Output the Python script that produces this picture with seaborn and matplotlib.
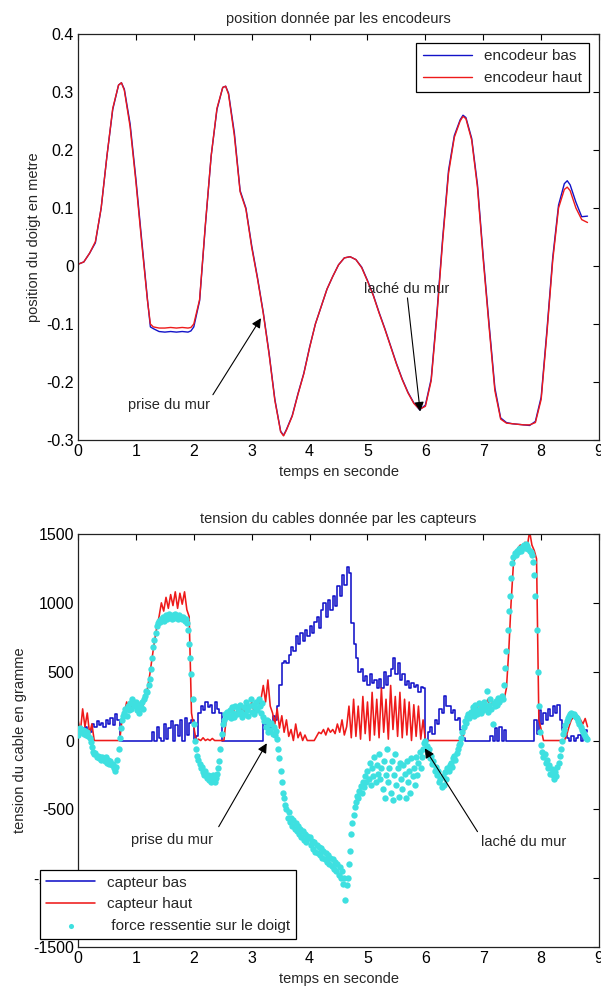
import numpy as np
import matplotlib
matplotlib.use("Agg")
import matplotlib.pyplot as plt
import seaborn as sns

# --- courbes des encodeurs (position du doigt, m) ---
enc_t = [0, 0.1, 0.2, 0.3, 0.4, 0.5, 0.6, 0.7, 0.75, 0.8, 0.9, 1.0, 1.1, 1.2, 1.25,
         1.3, 1.4, 1.5, 1.6, 1.7, 1.8, 1.9, 1.95, 2.0, 2.1, 2.2, 2.3, 2.4, 2.5, 2.55,
         2.6, 2.7, 2.8, 2.9, 3.0, 3.1, 3.2, 3.3, 3.4, 3.5, 3.55, 3.6, 3.7, 3.8, 3.9,
         4.0, 4.1, 4.2, 4.3, 4.4, 4.5, 4.6, 4.7, 4.8, 4.9, 5.0, 5.1, 5.2, 5.3, 5.4,
         5.5, 5.6, 5.7, 5.8, 5.9, 6.0, 6.1, 6.2, 6.3, 6.4, 6.5, 6.6, 6.65, 6.7, 6.8,
         6.9, 7.0, 7.1, 7.2, 7.3, 7.4, 7.5, 7.6, 7.7, 7.8, 7.9, 8.0, 8.1, 8.2, 8.3,
         8.4, 8.45, 8.5, 8.6, 8.7, 8.8]
enc_bas = [0.003, 0.007, 0.022, 0.04, 0.10, 0.19, 0.27, 0.312, 0.316, 0.305, 0.245,
           0.15, 0.045, -0.058, -0.105, -0.108, -0.113, -0.114, -0.113, -0.114,
           -0.113, -0.114, -0.112, -0.105, -0.06, 0.07, 0.19, 0.27, 0.308, 0.31,
           0.298, 0.23, 0.13, 0.10, 0.035, -0.02, -0.08, -0.15, -0.23, -0.285,
           -0.292, -0.282, -0.258, -0.22, -0.185, -0.14, -0.10, -0.07, -0.04,
           -0.018, 0.002, 0.014, 0.016, 0.011, -0.002, -0.025, -0.05, -0.08,
           -0.108, -0.138, -0.168, -0.195, -0.218, -0.236, -0.248, -0.24, -0.195,
           -0.08, 0.05, 0.165, 0.225, 0.252, 0.26, 0.256, 0.22, 0.14, 0.015, -0.10,
           -0.21, -0.262, -0.27, -0.272, -0.273, -0.274, -0.275, -0.268, -0.226,
           -0.11, 0.015, 0.105, 0.142, 0.147, 0.14, 0.11, 0.085, 0.086]
enc_haut = [0.003, 0.007, 0.022, 0.042, 0.10, 0.19, 0.272, 0.312, 0.316, 0.303, 0.24,
            0.145, 0.04, -0.06, -0.10, -0.105, -0.107, -0.107, -0.106, -0.107,
            -0.106, -0.107, -0.106, -0.10, -0.058, 0.072, 0.19, 0.272, 0.308, 0.31,
            0.296, 0.225, 0.128, 0.098, 0.032, -0.022, -0.082, -0.152, -0.232, -0.286,
            -0.293, -0.283, -0.259, -0.221, -0.186, -0.141, -0.10, -0.07, -0.04,
            -0.018, 0.002, 0.014, 0.016, 0.011, -0.003, -0.026, -0.051, -0.081,
            -0.109, -0.139, -0.169, -0.196, -0.219, -0.237, -0.247, -0.242, -0.198,
            -0.085, 0.045, 0.16, 0.222, 0.25, 0.258, 0.254, 0.217, 0.135, 0.01, -0.105,
            -0.215, -0.264, -0.271, -0.272, -0.273, -0.274, -0.274, -0.27, -0.23,
            -0.115, 0.01, 0.10, 0.132, 0.136, 0.13, 0.10, 0.08, 0.075]

# --- tension des cables (gramme), échantillonnage 0.04 s ---
dt_cables = 0.04
capteur_bas = [
    60, 90, 70, 100, 80, 60, 120, 100, 140, 110,
    130, 100, 150, 120, 160, 110, 190, 150, 0, 0,
    0, 0, 0, 0, 0, 0, 0, 0, 0, 0,
    0, 0, 60, 0, 100, 20, 0, 120, 10, 90,
    140, 0, 110, 30, 150, 0, 160, 40, 130, 150,
    0, 30, 200, 250, 220, 280, 240, 260, 200, 280,
    230, 200, 0, 0, 0, 0, 0, 0, 0, 0,
    0, 0, 0, 0, 0, 0, 0, 0, 0, 0,
    120, 100, 150, 90, 180, 150, 250, 400, 560, 580,
    560, 620, 680, 650, 760, 700, 780, 720, 800, 760,
    830, 780, 860, 900, 820, 950, 1000, 900, 1020, 950,
    1050, 980, 1120, 1050, 1200, 1130, 1260, 1220, 850, 700,
    600, 500, 520, 430, 470, 400, 480, 420, 440, 380,
    450, 380, 500, 400, 470, 520, 600, 480, 560, 440,
    480, 400, 430, 380, 420, 390, 400, 350, 390, 380,
    0, 60, 100, 50, 150, 120, 230, 200, 320, 250,
    250, 200, 220, 150, 160, 80, 20, 0, 0, 0,
    0, 0, 0, 0, 0, 0, 0, 0, 30, 0,
    90, 0, 100, 0, 80, 0, 0, 0, 0, 0,
    0, 0, 0, 0, 0, 0, 0, 150, 50, 220,
    120, 200, 150, 230, 180, 250, 200, 260, 150, 80,
    40, 20, 0, 30, 0, 20, 40, 0, 60, 80,
    60]
capteur_haut = [
    150, 60, 230, 100, 200, 50, 120, 0, 0, 0,
    0, 0, 0, 0, 0, 0, 0, 0, 0, 150,
    200, 280, 230, 250, 300, 260, 220, 280, 250, 300,
    380, 480, 600, 720, 820, 900, 1000, 940, 1040, 960,
    1060, 980, 1080, 960, 1070, 990, 1080, 950, 900, 200,
    100, 0, 10, 0, 20, 0, 10, 0, 15, 0,
    0, 0, 0, 0, 160, 200, 170, 230, 190, 220,
    180, 240, 200, 260, 220, 280, 210, 250, 230, 300,
    400, 280, 440, 250, 200, 120, 230, 90, 180, 60,
    150, 30, 80, 0, 120, 20, 60, 0, 40, 0,
    0, 0, 0, 30, 60, 50, 80, 40, 90, 60,
    80, 50, 120, 60, 150, 40, 100, 250, 20, 300,
    30, 250, 10, 320, 50, 280, 0, 350, 40, 300,
    20, 380, 60, 300, 10, 400, 80, 320, 30, 350,
    20, 300, 40, 280, 0, 260, 30, 250, 10, 150,
    0, 0, 0, 0, 0, 0, 0, 0, 0, 0,
    0, 0, 0, 0, 0, 0, 0, 80, 150, 200,
    220, 260, 200, 280, 240, 200, 270, 300, 230, 280,
    250, 300, 260, 320, 300, 380, 650, 1000, 1280, 1360,
    1400, 1420, 1400, 1440, 1410, 1520, 1420, 1380, 1320, 150,
    80, 0, 0, 0, 0, 0, 0, 0, 0, 0,
    0, 40, 100, 150, 170, 185, 170, 150, 120, 160,
    100]

# --- force ressentie (gramme), échantillonnage 0.02 s ---
dt_force = 0.02
force_doigt = [
    40, 70, 90, 60, 80, 50, 70, 40, 60, 30,
    20, -10, -50, -80, -100, -90, -120, -110, -130, -120,
    -140, -120, -130, -150, -120, -160, -140, -170, -150, -180,
    -170, -200, -220, -190, -140, -60, 20, 90, 150, 180,
    200, 230, 180, 250, 220, 270, 230, 300, 260, 250,
    280, 220, 260, 200, 240, 280, 230, 300, 320, 360,
    350, 400, 450, 520, 600, 680, 730, 780, 830, 850,
    870, 860, 880, 900, 870, 890, 910, 880, 900, 920,
    900, 880, 910, 890, 920, 900, 880, 910, 890, 900,
    880, 900, 870, 880, 850, 800, 700, 600, 480, 300,
    120, 0, -60, -110, -140, -170, -200, -190, -230, -250,
    -220, -270, -250, -290, -260, -300, -280, -250, -300, -270,
    -240, -200, -150, -60, 50, 120, 150, 190, 170, 210,
    180, 220, 160, 240, 200, 170, 250, 190, 230, 200,
    260, 210, 170, 240, 190, 280, 220, 180, 250, 300,
    210, 260, 190, 240, 280, 220, 300, 250, 200, 270,
    170, 140, 100, 150, 60, 120, 80, 130, 50, 100,
    40, 70, 10, -60, -130, -220, -300, -380, -420, -470,
    -500, -560, -520, -590, -560, -620, -580, -640, -600, -660,
    -620, -680, -640, -700, -660, -720, -680, -740, -690, -710,
    -700, -760, -730, -790, -740, -810, -760, -820, -770, -830,
    -780, -850, -800, -860, -820, -880, -830, -900, -850, -910,
    -860, -930, -880, -950, -900, -980, -920, -1000, -950, -1040,
    -1000, -1160, -1050, -1000, -900, -800, -680, -600, -540, -480,
    -450, -400, -420, -370, -330, -380, -300, -340, -260, -300,
    -220, -280, -160, -320, -200, -260, -120, -300, -180, -240,
    -100, -280, -200, -350, -150, -420, -250, -60, -300, -200,
    -380, -150, -430, -250, -100, -320, -200, -410, -160, -280,
    -350, -180, -240, -420, -150, -300, -220, -380, -130, -260,
    -200, -320, -120, -250, -160, -80, -200, -120, -60, -20,
    0, -40, -90, -60, -130, -110, -170, -150, -220, -190,
    -250, -220, -300, -280, -340, -260, -320, -230, -280, -200,
    -220, -180, -160, -190, -130, -110, -140, -90, -60, -30,
    -20, 20, 60, 100, 140, 130, 170, 190, 160, 210,
    200, 240, 180, 260, 220, 190, 270, 230, 200, 250,
    220, 280, 240, 360, 210, 260, 300, 230, 120, 270,
    250, 290, 260, 310, 280, 300, 320, 300, 400, 530,
    650, 800, 940, 1050, 1180, 1290, 1330, 1360, 1350, 1380,
    1370, 1390, 1400, 1380, 1410, 1420, 1400, 1430, 1410, 1390,
    1380, 1370, 1350, 1300, 1200, 1050, 800, 500, 250, 60,
    -30, -80, -120, -100, -160, -140, -200, -180, -240, -210,
    -250, -280, -230, -260, -190, -160, -110, -60, 0, 50,
    80, 110, 140, 160, 180, 190, 200, 195, 190, 180,
    170, 160, 140, 120, 100, 80, 60, 45, 30, 20,
    10]

t_cables = np.arange(len(capteur_bas)) * dt_cables
t_force = np.arange(len(force_doigt)) * dt_force

sns.set_style("white")
plt.rcParams["font.family"] = ["Liberation Sans", "DejaVu Sans"]
plt.rcParams["axes.unicode_minus"] = False

BLUE = "#1212c8"
RED = "#ee1a1a"
CYAN = "#3ee0e0"
arrow = dict(arrowstyle="-|>", color="black", lw=0.8, mutation_scale=14,
             shrinkA=0, shrinkB=0)

fig = plt.figure(figsize=(6.01, 9.90), dpi=100)
ax1 = fig.add_axes([0.1298, 0.5556, 0.867, 0.410])
ax2 = fig.add_axes([0.1298, 0.0434, 0.867, 0.4172])


def matlab_axes(ax):
    for s in ax.spines.values():
        s.set_color("#222222")
        s.set_linewidth(0.9)
    ax.tick_params(direction="in", top=True, right=True, length=4, width=0.8,
                   colors="black", labelsize=11.5, pad=3)
    ax.set_xlim(0, 9)
    ax.set_xticks(range(10))
    ax.set_xlabel("temps en seconde", fontsize=10.5, labelpad=4)


# ---- haut : position donnée par les encodeurs ----
sns.lineplot(x=enc_t, y=enc_bas, ax=ax1, color=BLUE, linewidth=1.0,
             estimator=None, label="encodeur bas")
sns.lineplot(x=enc_t, y=enc_haut, ax=ax1, color=RED, linewidth=1.0,
             estimator=None, label="encodeur haut")
matlab_axes(ax1)
ax1.set_ylim(-0.3, 0.4)
ax1.set_yticks([-0.3, -0.2, -0.1, 0, 0.1, 0.2, 0.3, 0.4])
ax1.set_yticklabels(["-0.3", "-0.2", "-0.1", "0", "0.1", "0.2", "0.3", "0.4"])
ax1.set_ylabel("position du doigt en metre", fontsize=10.5, labelpad=4)
ax1.set_title("position donnée par les encodeurs", fontsize=10.5, pad=8)
leg1 = ax1.legend(loc="upper right", bbox_to_anchor=(0.980, 0.957),
                  bbox_transform=fig.transFigure, fontsize=11, frameon=True,
                  fancybox=False, edgecolor="black", framealpha=1,
                  handlelength=3.2, borderpad=0.45, labelspacing=0.5,
                  borderaxespad=0)
leg1.get_frame().set_linewidth(0.9)

ax1.text(1.57, -0.239, "prise du mur", ha="center", va="center", fontsize=10.5)
ax1.annotate("", xy=(3.16, -0.090), xytext=(2.33, -0.222), arrowprops=arrow)
ax1.text(5.68, -0.039, "laché du mur", ha="center", va="center", fontsize=10.5)
ax1.annotate("", xy=(5.91, -0.251), xytext=(5.69, -0.055), arrowprops=arrow)

# ---- bas : tension des cables ----
sns.lineplot(x=t_cables, y=capteur_bas, ax=ax2, color=BLUE, linewidth=1.15,
             estimator=None, drawstyle="steps-post", label="capteur bas")
sns.lineplot(x=t_cables, y=capteur_haut, ax=ax2, color=RED, linewidth=1.15,
             estimator=None, label="capteur haut")
sns.scatterplot(x=t_force, y=force_doigt, ax=ax2, color=CYAN, marker="o", s=21,
                linewidth=0, label=" force ressentie sur le doigt", zorder=3)
matlab_axes(ax2)
ax2.set_ylim(-1500, 1500)
ax2.set_yticks([-1500, -1000, -500, 0, 500, 1000, 1500])
ax2.set_yticklabels(["-1500", "-1000", "-500", "0", "500", "1000", "1500"])
ax2.set_ylabel("tension du cable en gramme", fontsize=10.5, labelpad=4)
ax2.set_title("tension du cables donnée par les capteurs", fontsize=10.5, pad=8)
leg2 = ax2.legend(loc="lower left", bbox_to_anchor=(0.0666, 0.0515),
                  bbox_transform=fig.transFigure, fontsize=11, frameon=True,
                  fancybox=False, edgecolor="black", framealpha=1,
                  handlelength=3.2, borderpad=0.4, labelspacing=0.5,
                  borderaxespad=0, markerscale=0.8)
leg2.get_frame().set_linewidth(0.9)

ax2.text(1.63, -723, "prise du mur", ha="center", va="center", fontsize=10.5)
ax2.annotate("", xy=(3.26, -20), xytext=(2.43, -626), arrowprops=arrow)
ax2.text(7.70, -735, "laché du mur", ha="center", va="center", fontsize=10.5)
ax2.annotate("", xy=(5.99, -57), xytext=(6.90, -662), arrowprops=arrow)

fig.savefig("out.png", dpi=100, facecolor="white")
